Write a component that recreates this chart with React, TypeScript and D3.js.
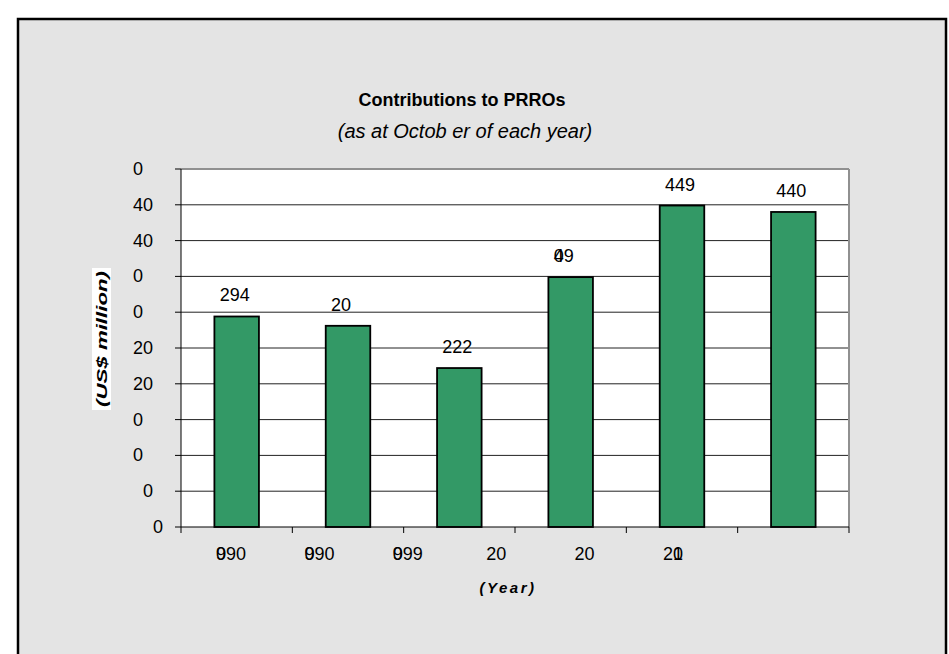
import React from "react";
import * as d3 from "d3";

// values (labels kept as they are drawn, "_" = blank digit)
const barIds = ["b1", "b2", "b3", "b4", "b5", "b6"];
const values = [294, 281, 222, 349, 449, 440];
const valueLabels = ["294", "20_", "222", "49_", "449", "440"];
const valueOverlays = ["", "", "", "0__", "", ""];
const xLabels = ["990", "990", "999", "20", "20", "20"];
const xOverlays = ["0__", "0__", "0__", "", "", "_1"];
const yTicks = [500, 450, 400, 350, 300, 250, 200, 150, 100, 50, 0];
const yTickLabels = ["0__", "40_", "40_", "0__", "0__", "20_", "20_", "0__", "0__", "0_", "0"];

const FONT = "'Liberation Sans', Arial, sans-serif";

function Masked(props: { text: string; x: number; y: number; anchor: string; size: number }) {
  const { text, x, y, anchor, size } = props;
  return (
    <text x={x} y={y} textAnchor={anchor} fontSize={size} fontFamily={FONT} fill="#000">
      {text.split("").map((c, i) =>
        c === "_" ? (
          <tspan key={i} fillOpacity={0}>0</tspan>
        ) : (
          <tspan key={i}>{c}</tspan>
        )
      )}
    </text>
  );
}

export default function App() {
  const width = 949;
  const height = 654;
  const margin = { top: 169, right: 100, bottom: 127, left: 181 };
  const plotW = width - margin.left - margin.right;
  const plotH = height - margin.top - margin.bottom;

  const x = d3.scaleBand<string>().domain(barIds).range([0, plotW]).paddingInner(0.6).paddingOuter(0.3);
  const y = d3.scaleLinear().domain([0, 500]).range([plotH, 0]);
  // the year labels sit off the bars in the original
  const xl = d3.scalePoint<number>().domain(d3.range(xLabels.length)).range([50, 492]);
  const step = plotW / barIds.length;
  const fs = 18;

  return (
    <svg width={width} height={height} style={{ position: "absolute", left: 0, top: 0 }}>
      <rect x={0} y={0} width={width} height={height} fill="#fff" />
      <rect x={18} y={19} width={928} height={660} fill="#e4e4e4" stroke="#000" strokeWidth={2.5} />

      <text x={462} y={106} textAnchor="middle" fontFamily={FONT} fontWeight="bold" fontSize={18}>
        Contributions to PRROs
      </text>
      <text x={465} y={138} textAnchor="middle" fontFamily={FONT} fontStyle="italic" fontSize={20}>
        (as at Octob er of each year)
      </text>

      <g transform={`translate(${margin.left},${margin.top})`}>
        <rect x={0} y={0} width={plotW} height={plotH} fill="#fff" />
        {yTicks.filter((t) => t > 0 && t < 500).map((t) => (
          <line key={t} x1={0} x2={plotW} y1={y(t)} y2={y(t)} stroke="#222" strokeWidth={1} />
        ))}
        <line x1={0} x2={plotW} y1={0} y2={0} stroke="#909090" strokeWidth={2} />
        <line x1={plotW} x2={plotW} y1={0} y2={plotH} stroke="#909090" strokeWidth={2} />

        {values.map((v, i) => (
          <rect
            key={barIds[i]}
            x={x(barIds[i])}
            y={y(v)}
            width={x.bandwidth()}
            height={plotH - y(v)}
            fill="#339966"
            stroke="#000"
            strokeWidth={1.8}
          />
        ))}

        {values.map((v, i) => {
          const cx = (x(barIds[i]) as number) + x.bandwidth() / 2 - 2;
          return (
            <g key={"l" + i}>
              <Masked text={valueLabels[i]} x={cx} y={y(v) - 15} anchor="middle" size={fs} />
              {valueOverlays[i] && <Masked text={valueOverlays[i]} x={cx} y={y(v) - 15} anchor="middle" size={fs} />}
            </g>
          );
        })}

        <line x1={0} x2={0} y1={0} y2={plotH} stroke="#000" strokeWidth={1} />
        <line x1={0} x2={plotW} y1={plotH} y2={plotH} stroke="#000" strokeWidth={1} />
        {yTicks.map((t, i) => (
          <g key={"yt" + t}>
            <line x1={-6} x2={0} y1={y(t)} y2={y(t)} stroke="#000" />
            <Masked text={yTickLabels[i]} x={-18} y={y(t) + 6} anchor="end" size={fs} />
          </g>
        ))}
        {d3.range(barIds.length + 1).map((k) => (
          <line key={"xt" + k} x1={k * step} x2={k * step} y1={plotH} y2={plotH + 6} stroke="#000" />
        ))}
        {xLabels.map((l, i) => (
          <g key={"xl" + i}>
            <Masked text={l} x={xl(i) as number} y={plotH + 33} anchor="middle" size={fs} />
            {xOverlays[i] && <Masked text={xOverlays[i]} x={xl(i) as number} y={plotH + 33} anchor="middle" size={fs} />}
          </g>
        ))}
      </g>

      <text
        x={508}
        y={593}
        textAnchor="middle"
        fontFamily={FONT}
        fontWeight="bold"
        fontStyle="italic"
        fontSize={15}
        letterSpacing={2.5}
      >
        (Year)
      </text>

      <rect x={92} y={268} width={19} height={142} fill="#fff" />
      <text
        transform="translate(107,339) rotate(-90)"
        textAnchor="middle"
        fontFamily={FONT}
        fontWeight="bold"
        fontStyle="italic"
        fontSize={14}
        textLength={136}
        lengthAdjust="spacingAndGlyphs"
      >
        (US$ million)
      </text>
    </svg>
  );
}
